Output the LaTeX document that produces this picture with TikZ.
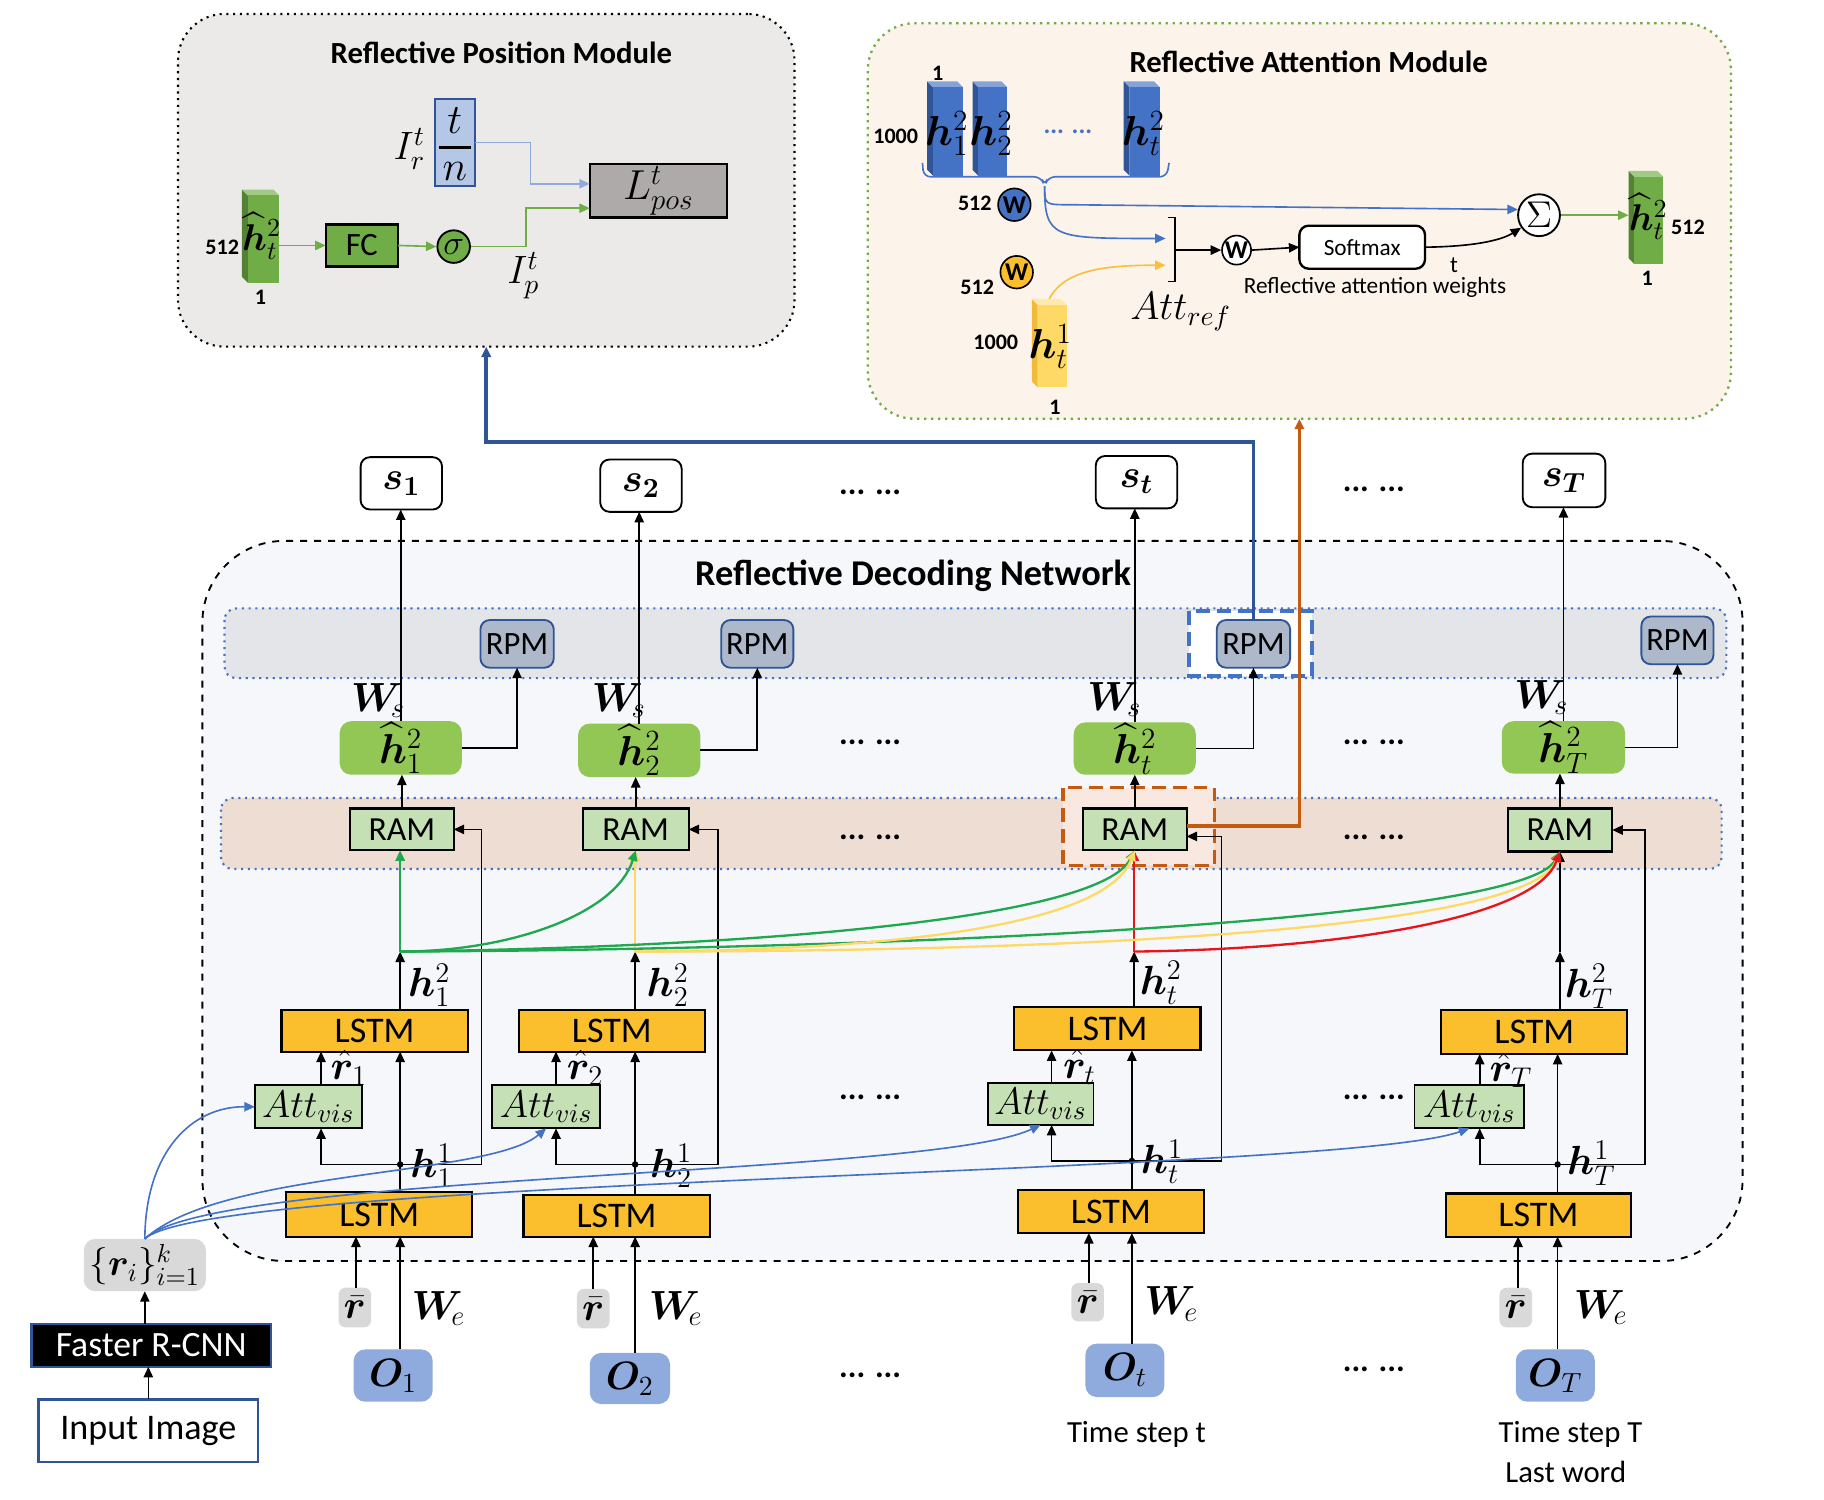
\RequirePackage{fix-cm}
\documentclass[tikz,border=0pt]{standalone}
\usepackage{fontspec}
\setmainfont{Carlito}
\usepackage{amsmath}
\usepackage{bm}
\usetikzlibrary{arrows.meta,calc}
\definecolor{lstmc}{HTML}{FBBF2E}
\definecolor{ramc}{HTML}{C5E0B4}
\definecolor{hhc}{HTML}{92C655}
\definecolor{rpmc}{HTML}{ADB9CA}
\definecolor{rpmb}{HTML}{2F5597}
\definecolor{oc}{HTML}{8FAADC}
\definecolor{grayc}{HTML}{D9D9D9}
\definecolor{bluec}{HTML}{4472C4}
\definecolor{dblue}{HTML}{2F5597}
\definecolor{orangec}{HTML}{C55A11}
\definecolor{greenc}{HTML}{70AD47}
\definecolor{dgreen}{HTML}{548235}
\definecolor{curveg}{HTML}{1FA84F}
\definecolor{curvey}{HTML}{FFD966}
\definecolor{curver}{HTML}{E8141B}
\definecolor{yelc}{HTML}{FFD966}
\definecolor{yeld}{HTML}{F2B93B}
\definecolor{yelarr}{HTML}{F9C13A}
\definecolor{lblue}{HTML}{8FAADC}
\definecolor{tnc}{HTML}{B4C7E7}
\definecolor{lposc}{HTML}{AEAAAA}
\definecolor{rpmmod}{HTML}{EBEAE8}
\definecolor{rammod}{HTML}{FCF3EA}
\definecolor{rdnc}{HTML}{F5F7FB}
\definecolor{band1}{HTML}{E3E5E8}
\definecolor{band2}{HTML}{EEDDD3}
\definecolor{hlram}{HTML}{F8E8E0}
\newcommand\fs[1]{\fontsize{#1}{#1}\selectfont}
\newcommand\mybox[7]{\node[#6,inner sep=0pt,outer sep=0pt,minimum width={(#4-#2)*0.5pt},minimum height={(#5-#3)*0.5pt}] (#1) at ({(#2+#4)/2},{(#3+#5)/2}) {#7};}
\newcommand\cuboid[8]{%
 \fill[#6] (#1,#2) -- ({#1+5},{#2+5}) -- ({#1+5},#4) -- (#1,{#4-5}) -- cycle;
 \fill[#7] (#1,#2) -- ({#3-5},#2) -- (#3,{#2+5}) -- ({#1+5},{#2+5}) -- cycle;
 \fill[#5] ({#1+5},{#2+5}) rectangle (#3,#4);
 \node[inner sep=0pt,outer sep=0pt,minimum width={(#3-#1)*0.5pt},minimum height={(#4-#2)*0.5pt}] (#8) at ({(#1+#3)/2},{(#2+#4)/2}) {};}
\begin{document}
\begin{tikzpicture}[x=0.5pt,y=-0.5pt,
  arr/.style={-{Triangle[length=4.5pt,width=4pt]}},
  thinl/.style={line width=0.7pt},
  lstm/.style={draw,line width=0.9pt,fill=lstmc,font=\fs{15.5}},
  ramb/.style={draw,line width=0.9pt,fill=ramc,font=\fs{14.5}},
  rpmn/.style={draw=rpmb,line width=0.8pt,fill=rpmc,rounded corners=4pt,font=\fs{14}},
  hhn/.style={fill=hhc,rounded corners=5pt,font=\fs{18}},
  sbox/.style={draw,line width=0.8pt,fill=white,rounded corners=4pt,font=\fs{17}},
  attn/.style={draw,line width=0.8pt,fill=ramc,font=\fs{16.5}},
  obox/.style={fill=oc,rounded corners=5pt,font=\fs{17}},
  rbox/.style={fill=grayc,rounded corners=3pt,font=\fs{17}},
  lab/.style={inner sep=0pt,font=\fs{17.5}},
  numlab/.style={inner sep=0pt,font=\fs{9.5}\bfseries},
  dotlab/.style={inner sep=0pt,font=\fs{14}\bfseries},
  cw/.style={circle,draw,line width=0.7pt,minimum size=14pt,inner sep=0pt,font=\fs{11}\bfseries},
  ccurve/.style={arr,line width=1pt}]
\useasboundingbox (0,0) rectangle (1568,1289);

% ===== Reflective Position Module =====
\mybox{rpmmodule}{153}{12}{683}{298}{draw,dotted,line width=0.9pt,fill=rpmmod,rounded corners=20pt}{}
\node[inner sep=0pt,font=\fs{13.2}\bfseries] (rpmtitle) at (431,45) {Reflective Position Module};
\cuboid{208}{163}{240}{243}{greenc}{dgreen}{greenc!65!white}{gcube1}
\node[lab,font=\fs{16}] (gcube1lab) at (225,203) {$\widehat{\bm h}{}^2_t$};
\node[numlab] (n512a) at (191,213) {512};
\node[numlab] (n1a) at (224,256) {1};
\mybox{fc}{280}{193}{342}{229}{draw,line width=1pt,fill=greenc,font=\fs{14}}{FC}
\node[circle,draw,line width=0.8pt,fill=greenc,minimum size=14pt,inner sep=0pt,font=\fs{15}] (sig) at (390,212) {$\sigma$};
\mybox{tn}{374}{85}{408}{160}{draw=dblue,line width=0.8pt,fill=tnc}{}
\node[lab,font=\fs{18}] (tnt) at (391,104) {$t$};
\node[lab,font=\fs{18}] (tnn) at (391,147) {$n$};
\draw[line width=1.3pt] (377,127) -- (405,127);
\node[lab,font=\fs{17}] (irlab) at (352,128) {$I^t_r$};
\mybox{lpos}{507}{141}{625}{187}{draw,line width=1pt,fill=lposc,font=\fs{18}}{$L^t_{pos}$}
\node[lab,font=\fs{17}] (iplab) at (450,237) {$I^t_p$};
\draw[arr,greenc,thinl] (gcube1.east |- fc.west) -- (fc.west);
\draw[arr,greenc,thinl] (fc.east) -- (sig.west);
\draw[arr,greenc,thinl] (sig.east) -- (452,212) |- ($(lpos.west)+(0,15)$);
\draw[arr,lblue,thinl] (tn.east) -| (456,158) -- ($(lpos.west)+(0,-6)$);

% ===== Reflective Attention Module =====
\mybox{rammodule}{746}{20}{1488}{360}{draw=greenc,dotted,line width=1pt,fill=rammod,rounded corners=20pt}{}
\node[inner sep=0pt,font=\fs{13.2}\bfseries] (ramtitle) at (1125,53) {Reflective Attention Module};
\cuboid{797}{70}{828}{151}{bluec}{dblue}{bluec!65!white}{bc1}
\cuboid{836}{70}{866}{151}{bluec}{dblue}{bluec!65!white}{bc2}
\cuboid{966}{70}{997}{151}{bluec}{dblue}{bluec!65!white}{bct}
\node[lab,font=\fs{18}] (bc1lab) at (814,115) {$\bm h^2_1$};
\node[lab,font=\fs{18}] (bc2lab) at (852,115) {$\bm h^2_2$};
\node[lab,font=\fs{18}] (bctlab) at (983,115) {$\bm h^2_t$};
\node[numlab] (n1b) at (806,63) {1};
\node[numlab] (n1000a) at (770,117) {1000};
\node[dotlab,text=bluec,font=\fs{11}\bfseries] (bdots) at (918,113) {... ...};
\draw[bluec,line width=0.7pt,rounded corners=3pt] (793,140) -- (794,152) -- (895,152) -- (898,160) -- (901,152) -- (1003,152) -- (1005,140);
\coordinate (bc) at (898,160);
\node[numlab] (n512b) at (838,175) {512};
\node[cw,fill=bluec] (wb) at (872,176) {W};
\node[cw,fill=lstmc] (wy) at (874,234) {W};
\node[numlab] (n512c) at (840,247) {512};
\cuboid{887}{257}{917}{333}{yelc}{yeld}{yelc!55!white}{yc}
\node[lab,font=\fs{18}] (yclab) at (903,298) {$\bm h^1_t$};
\node[numlab] (n1000b) at (856,294) {1000};
\node[numlab] (n1c) at (907,350) {1};
\draw[line width=0.6pt] (1004,187) -- (1010,187) -- (1010,242) -- (1004,242);
\coordinate (brk) at (1010,215);
\node[cw,fill=white,minimum size=12.5pt] (ww) at (1063,215) {W};
\mybox{soft}{1117}{194}{1225}{231}{draw,line width=1pt,fill=white,rounded corners=4pt,font=\fs{10}}{Softmax}
\node[circle,draw,line width=0.8pt,fill=white,minimum size=18pt,inner sep=0pt,font=\fs{16}] (sum) at (1323,185) {$\Sigma$};
\cuboid{1400}{147}{1430}{227}{greenc}{dgreen}{greenc!65!white}{gcube2}
\node[lab,font=\fs{16}] (gcube2lab) at (1417,186) {$\widehat{\bm h}{}^2_t$};
\node[numlab] (n512d) at (1451,195) {512};
\node[numlab] (n1d) at (1416,239) {1};
\node[inner sep=0pt,font=\fs{10}] (tlab) at (1250,228) {t};
\node[inner sep=0pt,font=\fs{10}] (rawlab) at (1182,247) {Reflective attention weights};
\node[lab,font=\fs{17}] (attref) at (1015,268) {$Att_{ref}$};
\draw[arr,bluec,thinl] (bc) .. controls (898,176) .. (920,176) -- (sum.165);
\draw[arr,bluec,thinl] (bc) .. controls (898,205) and (905,205) .. (1002,205);
\draw[arr,yelarr,thinl] (yc.north) .. controls (915,232) and (950,228) .. (1002,228);
\draw[arr,thinl] (brk) -- (ww.west);
\draw[arr,thinl] (ww.east) -- (soft.west);
\draw[arr,thinl] (soft.east) .. controls (1265,212) and (1290,207) .. (sum.215);
\draw[arr,greenc,thinl] (sum.east) -- (gcube2.west |- sum.east);

% ===== Reflective Decoding Network =====
\mybox{rdn}{174}{465}{1498}{1084}{draw,dashed,line width=0.8pt,fill=rdnc,rounded corners=35pt}{}
\node[inner sep=0pt,font=\fs{15.6}\bfseries] (rdntitle) at (785,495) {Reflective Decoding Network};
\draw[dotted,draw=bluec,fill=band1,line width=0.9pt,rounded corners=5pt] (193,523) rectangle (1484,583);
\draw[dotted,draw=bluec,fill=band2,line width=0.9pt,rounded corners=5pt] (190,686) rectangle (1480,747);
\draw[draw=bluec,line width=1.6pt,fill=white,dash pattern=on 6pt off 3pt] (1022,525) rectangle (1128,581);
\draw[draw=orangec,line width=1.6pt,fill=hlram,dash pattern=on 6pt off 3pt] (914,677) rectangle (1044,744);

% column 1
\mybox{s1}{310}{393}{380}{438}{sbox}{$\bm{s_1}$}
\mybox{hh1}{292}{620}{397}{666}{hhn}{$\widehat{\bm h}{}^2_1$}
\mybox{rpm1}{413}{533}{476}{574}{rpmn}{RPM}
\mybox{ram1}{301}{695}{390}{731}{ramb}{RAM}
\mybox{lb1}{242}{868}{402}{904}{lstm}{LSTM}
\mybox{at1}{219}{933}{311}{970}{attn}{$Att_{vis}$}
\mybox{la1}{246}{1025}{406}{1063}{lstm}{LSTM}
\mybox{rb1}{291}{1107}{319}{1141}{rbox}{$\bar{\bm r}$}
\mybox{o1}{304}{1160}{372}{1205}{obox}{$\bm O_1$}
\coordinate (j1) at (344,818); \coordinate (k1) at (344,1001);
\coordinate (xa1) at (276,0); \coordinate (xr1) at (306,0); \coordinate (xf1) at (414,0);
\node[lab] (ws1) at (325,602) {$\bm W_{\!s}$};
\node[lab] (h21) at (369,847) {$\bm h^2_1$};
\node[lab] (rh1) at (300,918) {$\hat{\bm r}_1$};
\node[lab] (h11) at (371,1002) {$\bm h^1_1$};
\node[lab] (we1) at (377,1125) {$\bm W_{\!e}$};

% column 2
\mybox{s2}{516}{395}{586}{440}{sbox}{$\bm{s_2}$}
\mybox{hh2}{497}{622}{602}{668}{hhn}{$\widehat{\bm h}{}^2_2$}
\mybox{rpm2}{620}{533}{682}{574}{rpmn}{RPM}
\mybox{ram2}{501}{695}{592}{731}{ramb}{RAM}
\mybox{lb2}{446}{868}{606}{904}{lstm}{LSTM}
\mybox{at2}{423}{933}{516}{970}{attn}{$Att_{vis}$}
\mybox{la2}{450}{1027}{610}{1063}{lstm}{LSTM}
\mybox{rb2}{496}{1108}{524}{1142}{rbox}{$\bar{\bm r}$}
\mybox{o2}{507}{1163}{576}{1207}{obox}{$\bm O_2$}
\coordinate (j2) at (546,818); \coordinate (k2) at (546,1001);
\coordinate (xa2) at (478,0); \coordinate (xr2) at (510,0); \coordinate (xf2) at (617,0);
\node[lab] (ws2) at (532,602) {$\bm W_{\!s}$};
\node[lab] (h22) at (574,847) {$\bm h^2_2$};
\node[lab] (rh2) at (503,918) {$\hat{\bm r}_2$};
\node[lab] (h12) at (577,1002) {$\bm h^1_2$};
\node[lab] (we2) at (581,1125) {$\bm W_{\!e}$};

% column t
\mybox{st}{942}{392}{1012}{437}{sbox}{$\bm{s_t}$}
\mybox{hht}{923}{621}{1028}{666}{hhn}{$\widehat{\bm h}{}^2_t$}
\mybox{rpmt}{1046}{533}{1109}{574}{rpmn}{RPM}
\mybox{ramt}{931}{695}{1020}{731}{ramb}{RAM}
\mybox{lbt}{872}{866}{1032}{903}{lstm}{LSTM}
\mybox{att}{849}{931}{940}{967}{attn}{$Att_{vis}$}
\mybox{lat}{875}{1023}{1035}{1060}{lstm}{LSTM}
\mybox{rbt}{921}{1103}{949}{1136}{rbox}{$\bar{\bm r}$}
\mybox{ot}{933}{1155}{1001}{1201}{obox}{$\bm O_t$}
\coordinate (jt) at (975,818); \coordinate (kt) at (973,998);
\coordinate (xat) at (904,0); \coordinate (xrt) at (936,0); \coordinate (xft) at (1050,0);
\node[lab] (wst) at (958,601) {$\bm W_{\!s}$};
\node[lab] (h2t) at (998,845) {$\bm h^2_t$};
\node[lab] (rht) at (928,917) {$\hat{\bm r}_t$};
\node[lab] (h1t) at (999,999) {$\bm h^1_t$};
\node[lab] (wet) at (1007,1121) {$\bm W_{\!e}$};

% column T
\mybox{sT}{1309}{390}{1380}{436}{sbox}{$\bm{s_T}$}
\mybox{hhT}{1291}{620}{1397}{665}{hhn}{$\widehat{\bm h}{}^2_T$}
\mybox{rpmT}{1411}{530}{1473}{571}{rpmn}{RPM}
\mybox{ramT}{1296}{695}{1386}{732}{ramb}{RAM}
\mybox{lbT}{1239}{868}{1399}{906}{lstm}{LSTM}
\mybox{atT}{1216}{933}{1310}{970}{attn}{$Att_{vis}$}
\mybox{laT}{1243}{1026}{1402}{1063}{lstm}{LSTM}
\mybox{rbT}{1289}{1107}{1317}{1141}{rbox}{$\bar{\bm r}$}
\mybox{oT}{1303}{1160}{1371}{1205}{obox}{$\bm O_T$}
\coordinate (jT) at (1341,818); \coordinate (kT) at (1339,1001);
\coordinate (xaT) at (1272,0); \coordinate (xrT) at (1305,0); \coordinate (xfT) at (1414,0);
\node[lab] (wsT) at (1325,600) {$\bm W_{\!s}$};
\node[lab] (h2T) at (1366,848) {$\bm h^2_T$};
\node[lab] (rhT) at (1299,920) {$\hat{\bm r}_T$};
\node[lab] (h1T) at (1368,1000) {$\bm h^1_T$};
\node[lab] (weT) at (1376,1124) {$\bm W_{\!e}$};

% per-column connectors
\foreach \c in {1,2,t,T}{
  \draw[arr,thinl] (hh\c.north) -- (hh\c.north |- s\c.south);
  \draw[arr,thinl] (ram\c.north) -- (ram\c.north |- hh\c.south);
  \draw[arr,thinl] (hh\c.east) -| (rpm\c.south);
  \draw[arr,thinl] (lb\c.north -| j\c) -- (j\c);
  \draw[arr,thinl] (la\c.north -| k\c) -- (k\c |- lb\c.south);
  \fill (k\c) circle[radius=1.4pt];
  \draw[arr,thinl] (k\c) -| (xa\c |- at\c.south);
  \draw[arr,thinl] (xa\c |- at\c.north) -- (xa\c |- lb\c.south);
  \draw[arr,thinl] (xr\c |- rb\c.north) -- (xr\c |- la\c.south);
  \draw[arr,thinl] (o\c.north -| k\c) -- (k\c |- la\c.south);
}
\coordinate (ramtin) at ($(ramt.east)+(0,6)$);
\draw[arr,thinl] (k1) -| (xf1 |- ram1.east) -- (ram1.east);
\draw[arr,thinl] (k2) -| (xf2 |- ram2.east) -- (ram2.east);
\draw[arr,thinl] (kt) -| (xft |- ramtin) -- (ramtin);
\draw[arr,thinl] (kT) -| (xfT |- ramT.east) -- (ramT.east);

% vertical links to RAM
\draw[arr,line width=1pt] (jT) -- (jT |- ramT.south);
\draw[ccurve,curveg] (j1) -- (j1 |- ram1.south);
\draw[ccurve,curvey] (j2) -- (j2 |- ram2.south);
\draw[ccurve,curver] (jt) -- (jt |- ramt.south);
% curves to later RAMs
\draw[ccurve,curveg] (j1) .. controls (440,818) and (530,785) .. (ram2.south);
\draw[ccurve,curveg] (j1) .. controls (650,814) and (945,790) .. (ramt.south);
\draw[ccurve,curveg] (j1) .. controls (800,816) and (1310,790) .. (ramT.south);
\draw[ccurve,curvey] (j2) .. controls (760,817) and (950,797) .. (ramt.south);
\draw[ccurve,curvey] (j2) .. controls (950,818) and (1315,797) .. (ramT.south);
\draw[ccurve,curver] (jt) .. controls (1150,816) and (1320,790) .. (ramT.south);

% dots
\foreach \y in {423,638,720,943,1182}{\node[dotlab] (dl\y) at (748,\y) {... ...};}
\foreach \y in {421,638,720,943,1177}{\node[dotlab] (dr\y) at (1181,\y) {... ...};}

% time step labels
\node[inner sep=0pt,font=\fs{13.2}] (tst) at (977,1233) {Time step t};
\node[inner sep=0pt,font=\fs{13.2}] (tsT) at (1350,1233) {Time step T};
\node[inner sep=0pt,font=\fs{13.2}] (lw) at (1346,1265) {Last word};

% ===== left chain =====
\mybox{ri}{72}{1065}{177}{1110}{fill=grayc,rounded corners=5pt,font=\fs{16}}{$\{\bm r_i\}^k_{i=1}$}
\mybox{frcnn}{27}{1138}{233}{1175}{draw=dblue,line width=1pt,fill=black,text=white,font=\fs{15.3}}{Faster R-CNN}
\mybox{img}{33}{1203}{222}{1257}{draw=dblue,line width=1pt,fill=white,font=\fs{15.5}}{Input Image}
\draw[arr,thinl] (img.north) -- (img.north |- frcnn.south);
\draw[arr,thinl] (ri.south |- frcnn.north) -- (ri.south);
\draw[arr,bluec,thinl] (ri.north) .. controls (125,990) and (165,951) .. (at1.west);
\draw[arr,bluec,thinl] (ri.north) .. controls (190,1005) and (420,1012) .. (at2.south);
\draw[arr,bluec,thinl] (ri.north) .. controls (180,1008) and (800,1012) .. (att.south);
\draw[arr,bluec,thinl] (ri.north) .. controls (180,1012) and (1150,1010) .. (atT.south);

% ===== module links =====
\coordinate (bendb) at (1078,380);
\draw[arr,dblue,line width=1.6pt] (rpmt.north) -- (rpmt.north |- bendb) -| (rpmmodule.south);
\draw[arr,orangec,line width=1.6pt] ($(ramt.east)+(0,-3)$) -| (rammodule.south);
\end{tikzpicture}
\end{document}
